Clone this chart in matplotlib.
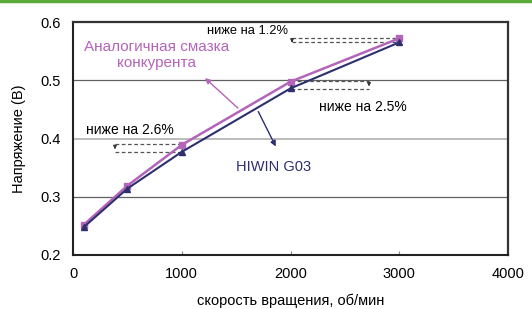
import matplotlib
matplotlib.use("Agg")
import matplotlib.pyplot as plt
from matplotlib.lines import Line2D

plt.rcParams['font.family'] = ['Liberation Sans', 'DejaVu Sans']

rpm = [100, 500, 1000, 2000, 3000]
competitor = [0.252, 0.319, 0.389, 0.4975, 0.572]
hiwin = [0.248, 0.314, 0.377, 0.486, 0.565]
x_ticks = [0, 1000, 2000, 3000, 4000]
y_ticks = [0.2, 0.3, 0.4, 0.5, 0.6]

PURPLE = '#b464b9'
NAVY = '#2e2f6e'

fig = plt.figure(figsize=(5.32, 3.09), dpi=100)
ax = fig.add_axes([73/532, 1-255/309, 435/532, 233/309])

fig.add_artist(Line2D([0, 1], [0.998, 0.998], transform=fig.transFigure,
                      color='#5aaa3a', lw=2.5))

ax.plot(rpm, competitor, color=PURPLE, lw=1.8, marker='s', ms=4.5, zorder=3)
ax.plot(rpm, hiwin, color=NAVY, lw=1.5, marker='^', ms=4.5, zorder=3)

ax.set_xlim(0, 4000)
ax.set_ylim(0.2, 0.6)
ax.set_xticks(x_ticks)
ax.set_yticks(y_ticks)
ax.set_xticklabels([str(v) for v in x_ticks], fontsize=10.5)
ax.set_yticklabels([f"{v:.1f}" for v in y_ticks], fontsize=10.5)
ax.tick_params(axis='y', length=0, pad=9)
ax.tick_params(axis='x', direction='in', length=3, color='#888888', pad=9)

for y in [0.3, 0.5]:
    ax.axhline(y, color='#606060', lw=0.9, zorder=1)
ax.axhline(0.4, color='#b0b0b0', lw=1.2, zorder=1)

for s in ['left', 'bottom']:
    ax.spines[s].set_color('#222222')
    ax.spines[s].set_linewidth(1.5)
for s in ['top', 'right']:
    ax.spines[s].set_color('#333333')
    ax.spines[s].set_linewidth(1.6)

ax.set_ylabel('Напряжение (В)', fontsize=10.5, labelpad=10)
ax.set_xlabel('скорость вращения, об/мин', fontsize=10.5, labelpad=9)

dash = dict(color='#555555', lw=0.9, ls=(0, (3, 2)))
arr = dict(arrowstyle='-|>', color='#333333', lw=0.8, mutation_scale=5)

# 1.2%
ax.text(1232, 0.5845, 'ниже на 1.2%', fontsize=9.3, ha='left', va='center')
ax.plot([2014, 3000], [0.573, 0.573], **dash)
ax.plot([2014, 3000], [0.565, 0.565], **dash)
ax.annotate('', xy=(2014, 0.5645), xytext=(2014, 0.5735), arrowprops=arr)

# 2.5%
ax.text(2262, 0.454, 'ниже на 2.5%', fontsize=10, ha='left', va='center')
ax.plot([2005, 2722], [0.4992, 0.4992], **dash)
ax.plot([2005, 2722], [0.485, 0.485], **dash)
ax.annotate('', xy=(2722, 0.4845), xytext=(2722, 0.4995), arrowprops=arr)

# 2.6%
ax.text(120, 0.4146, 'ниже на 2.6%', fontsize=10, ha='left', va='center')
ax.plot([386, 1000], [0.390, 0.390], **dash)
ax.plot([386, 1000], [0.3773, 0.3773], **dash)
ax.annotate('', xy=(386, 0.3768), xytext=(386, 0.3905), arrowprops=arr)

# series labels
ax.text(772, 0.5433, 'Аналогичная смазка\nконкурента', fontsize=11, color=PURPLE,
        ha='center', va='center', linespacing=1.1)
ax.annotate('', xy=(1195, 0.507), xytext=(1535, 0.449),
            arrowprops=dict(arrowstyle='-|>', color=PURPLE, lw=1.0, mutation_scale=8))
ax.text(1499, 0.351, 'HIWIN G03', fontsize=10.5, color=NAVY, ha='left', va='center')
ax.annotate('', xy=(1876, 0.382), xytext=(1692, 0.4506),
            arrowprops=dict(arrowstyle='-|>', color=NAVY, lw=1.0, mutation_scale=8))

fig.savefig('out.png', dpi=100)
